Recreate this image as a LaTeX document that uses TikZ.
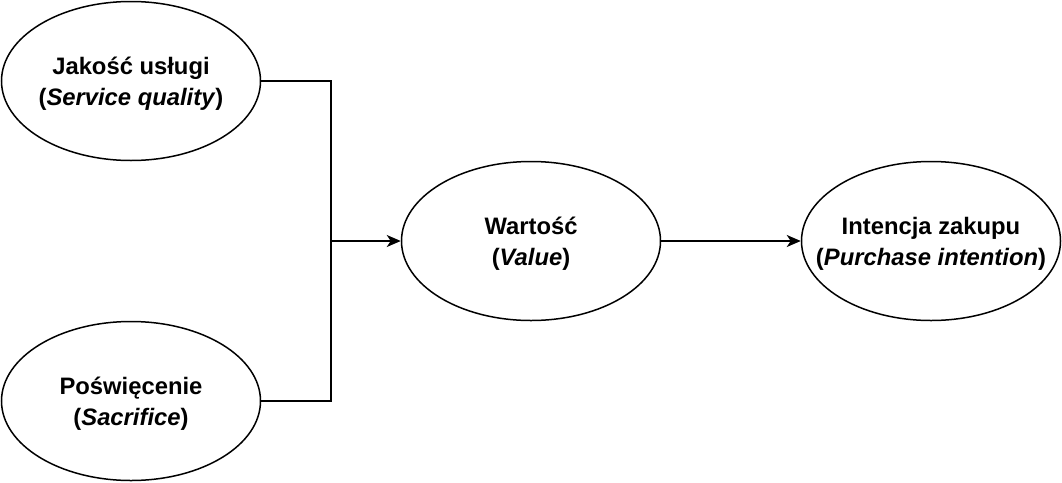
\documentclass[tikz,border=0pt]{standalone}
\usepackage{fontspec}
\setmainfont{Liberation Sans}
\usetikzlibrary{shapes.geometric,arrows.meta}
\newcommand{\ovaltext}[2]{\raisebox{-3pt}[\height][\depth]{\makebox[0pt]{\begin{tabular}{@{}c@{}}#1\\#2\end{tabular}}}}
\begin{document}
\begin{tikzpicture}[x=1pt,y=-1pt,
  oval/.style={ellipse,draw,line width=1.5pt,minimum width=259pt,minimum height=159pt,inner sep=0pt,font=\fontsize{23.8}{31}\selectfont\bfseries},
  conn/.style={line width=1.5pt},
  arr/.style={conn,-{Stealth[length=14pt,width=12pt,inset=4pt]}}]
\useasboundingbox (0,0) rectangle (1062,482);
\node[oval] (q) at (131,81) {\ovaltext{Jakość usługi}{(\textit{Service quality})}};
\node[oval] (s) at (131,401) {\ovaltext{Poświęcenie}{(\textit{Sacrifice})}};
\node[oval] (v) at (531,241) {\ovaltext{Wartość}{(\textit{Value})}};
\node[oval] (p) at (931,241) {\ovaltext{Intencja zakupu}{(\textit{Purchase intention})}};
\coordinate (j) at (331,241);
\draw[conn] (q.east) -| (j);
\draw[conn] (s.east) -| (j);
\draw[arr] (j) -- (v.west);
\draw[arr] (v.east) -- (p.west);
\end{tikzpicture}
\end{document}
